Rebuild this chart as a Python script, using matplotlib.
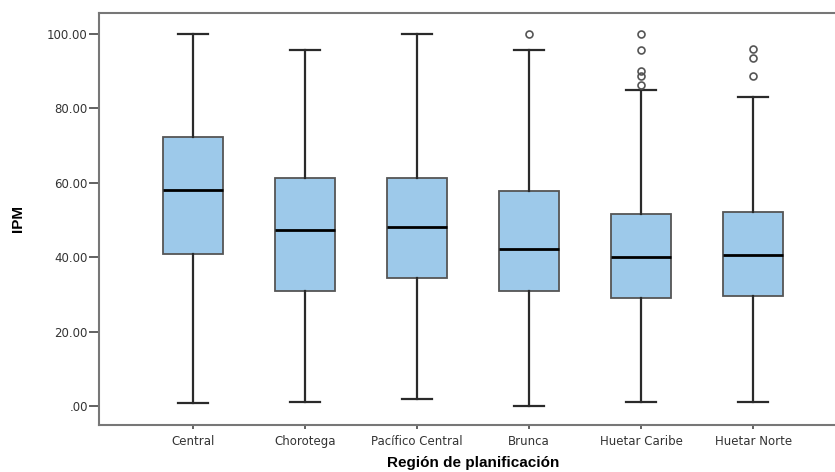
import matplotlib
matplotlib.use("Agg")
import matplotlib.pyplot as plt

plt.rcParams["font.family"] = ["Liberation Sans", "DejaVu Sans"]

regions = ["Central", "Chorotega", "Pacífico Central", "Brunca",
           "Huetar Caribe", "Huetar Norte"]
whislo = [0.7, 1.0, 2.0, 0.0, 1.0, 1.0]
q1 = [40.8, 31.0, 34.3, 31.0, 29.0, 29.6]
med = [58.1, 47.3, 48.1, 42.2, 40.1, 40.6]
q3 = [72.3, 61.3, 61.2, 57.7, 51.6, 52.2]
whishi = [100.0, 95.6, 100.0, 95.6, 85.0, 83.1]
fliers = [[], [], [], [100.0],
          [100.0, 95.6, 89.9, 88.6, 86.3],
          [95.9, 93.6, 88.6]]

stats = []
for i, name in enumerate(regions):
    stats.append(dict(label=name, whislo=whislo[i], q1=q1[i], med=med[i],
                      q3=q3[i], whishi=whishi[i], fliers=fliers[i]))

fig = plt.figure(figsize=(8.35, 4.72), dpi=100)
ax = fig.add_axes([0.1186, 0.0996, 0.896, 0.8729])

edge = "#555555"
ax.bxp(stats, widths=0.53, patch_artist=True, showfliers=True,
       boxprops=dict(facecolor="#9dc9ea", edgecolor=edge, linewidth=1.3),
       medianprops=dict(color="black", linewidth=2.0),
       whiskerprops=dict(color="#2a2a2a", linewidth=1.6),
       capprops=dict(color="#2a2a2a", linewidth=1.6),
       capwidths=0.27,
       flierprops=dict(marker="o", markersize=5, markerfacecolor="none",
                       markeredgecolor="#555555", markeredgewidth=1.2))

ax.set_xlim(0.16, 6.84)
ax.set_ylim(-5.1, 105.6)
ax.set_yticks([0, 20, 40, 60, 80, 100])
ax.set_yticklabels([".00", "20.00", "40.00", "60.00", "80.00", "100.00"])
ax.set_xticks(range(1, 7))
ax.set_xticklabels(regions)
for lab in ax.get_xticklabels() + ax.get_yticklabels():
    lab.set_family("DejaVu Sans")

for s in ax.spines.values():
    s.set_color("#777777")
    s.set_linewidth(1.5)
ax.tick_params(axis="y", direction="out", length=7, width=1.3,
               color="#555555", labelsize=8.5, labelcolor="#333333", pad=1)
ax.tick_params(axis="x", direction="out", length=3, width=1.3,
               color="#555555", labelsize=8.5, labelcolor="#333333", pad=4)

ax.set_ylabel("IPM", fontsize=11, fontweight="bold", labelpad=16)
ax.set_xlabel("Región de planificación", fontsize=11, fontweight="bold",
              labelpad=6)

fig.savefig("out.png", dpi=100)
